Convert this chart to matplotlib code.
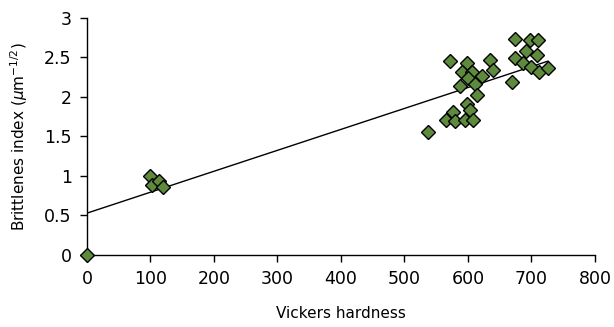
import matplotlib
matplotlib.use("Agg")
import matplotlib.pyplot as plt
import numpy as np

plt.rcParams['font.family'] = ['DejaVu Sans']
plt.rcParams['mathtext.fontset'] = 'dejavusans'

hardness = [0, 100, 103, 113, 120,
            572, 599, 635, 590, 606, 640, 622, 600, 611, 587, 614, 598, 603,
            577, 566, 580, 595, 608, 537,
            674, 697, 711, 691, 708, 674, 686, 699, 712, 726, 670]
brittleness = [0.0, 1.0, 0.88, 0.94, 0.86,
               2.46, 2.43, 2.47, 2.31, 2.32, 2.34, 2.26, 2.24, 2.17, 2.14, 2.03, 1.91, 1.84,
               1.81, 1.71, 1.69, 1.71, 1.71, 1.56,
               2.74, 2.72, 2.72, 2.58, 2.53, 2.49, 2.43, 2.38, 2.32, 2.37, 2.19]
trend_intercept = 0.53
trend_slope = 0.00265

x_ticks = [0, 100, 200, 300, 400, 500, 600, 700, 800]
y_ticks = [0, 0.5, 1, 1.5, 2, 2.5, 3]
y_tick_labels = ['0', '0.5', '1', '1.5', '2', '2.5', '3']

fig = plt.figure(figsize=(6.14, 3.27), dpi=100)
ax = fig.add_axes([0.1417, 0.2202, 0.9690 - 0.1417, 0.945 - 0.2202])

tx = np.array([0, max(hardness)])
ax.plot(tx, trend_intercept + trend_slope * tx, color='black', lw=1.0, zorder=2)
ax.plot(hardness, brittleness, linestyle='none', marker='D', ms=7.2,
        markerfacecolor='#5E8A3E', markeredgecolor='black', markeredgewidth=1.0,
        zorder=3, clip_on=False)

ax.set_xlim(0, 800)
ax.set_ylim(0, 3)
ax.set_xticks(x_ticks)
ax.set_yticks(y_ticks)
ax.set_yticklabels(y_tick_labels)
for s in ['top', 'right']:
    ax.spines[s].set_visible(False)
for s in ['left', 'bottom']:
    ax.spines[s].set_linewidth(1.0)
ax.tick_params(axis='both', direction='out', length=5, width=1.0,
               labelsize=12.5, colors='black')
ax.tick_params(axis='x', pad=6)
ax.tick_params(axis='y', pad=6)
ax.set_xlabel('Vickers hardness', fontsize=11, labelpad=13)
ax.set_ylabel(r'Brittlenes index ($\mu$m$^{-1/2}$)', fontsize=11, labelpad=10)

fig.savefig('out.png', dpi=100)
